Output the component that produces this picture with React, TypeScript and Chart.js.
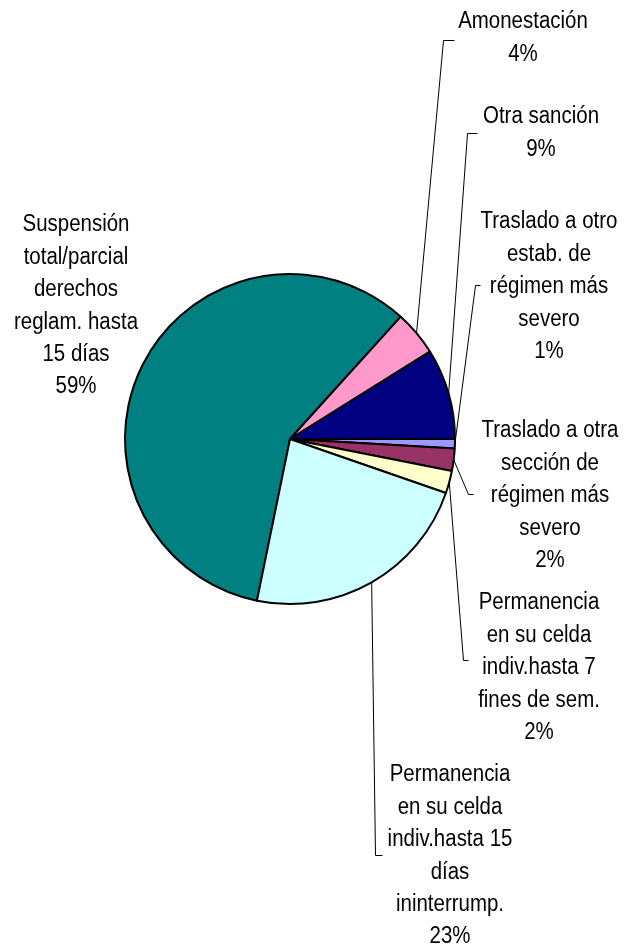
import React, { useEffect, useRef } from "react";
import { Chart, registerables } from "chart.js";

Chart.register(...registerables);

// Category labels (one entry per line of text)
const categories: string[][] = [
  ["Suspensión", "total/parcial", "derechos", "reglam. hasta", "15 días"],
  ["Amonestación"],
  ["Otra sanción"],
  ["Traslado a otro", "estab. de", "régimen más", "severo"],
  ["Traslado a otra", "sección de", "régimen más", "severo"],
  ["Permanencia", "en su celda", "indiv.hasta 7", "fines de sem."],
  ["Permanencia", "en su celda", "indiv.hasta 15", "días", "ininterrump."],
];

// Share of each sanction (%)
const values: number[] = [58.5, 4.4, 8.9, 0.9, 2.2, 2.2, 22.9];

const colors: string[] = ["#008080", "#FF99CC", "#000080", "#9999FF", "#993366", "#FFFFCC", "#CCFFFF"];

// Label layout relative to the pie centre (px): text centre x, first line y,
// leader corner (cx, cy) and horizontal end x (ex). null => no leader.
type Lay = { tx: number; ty: number; leader: null | { cx: number; cy: number; ex: number } };
const layout: Lay[] = [
  { tx: -214, ty: -214, leader: null },
  { tx: 233, ty: -417, leader: { cx: 153, cy: -399, ex: 164 } },
  { tx: 251, ty: -322, leader: { cx: 177, cy: -306, ex: 187 } },
  { tx: 259, ty: -217, leader: { cx: 185, cy: -154, ex: 190 } },
  { tx: 260, ty: -8, leader: { cx: 178, cy: 55, ex: 183 } },
  { tx: 249, ty: 164, leader: { cx: 173, cy: 221, ex: 178 } },
  { tx: 160, ty: 336, leader: { cx: 85, cy: 416, ex: 92 } },
];

const FONT = '23px "Liberation Sans Narrow", "Arial Narrow", "Liberation Sans", Arial, sans-serif';
const SCALE_X = 0.89;
const LINE_H = 32.4;

const labelPlugin = {
  id: "pieLabels",
  afterDraw(chart: any) {
    const ctx = chart.ctx;
    const meta = chart.getDatasetMeta(0);
    const total = values.reduce((a, b) => a + b, 0);
    meta.data.forEach((arc: any, i: number) => {
      const cx0 = arc.x;
      const cy0 = arc.y;
      const lay = layout[i];
      const lines = [...categories[i], Math.round((values[i] * 100) / total) + "%"];
      ctx.save();
      ctx.font = FONT;
      ctx.textAlign = "center";
      ctx.textBaseline = "middle";
      ctx.fillStyle = "#000";
      lines.forEach((ln, k) => {
        const x = cx0 + lay.tx;
        const y = cy0 + lay.ty + k * LINE_H;
        ctx.save();
        ctx.translate(x, y);
        ctx.scale(SCALE_X, 1);
        ctx.fillText(ln, 0, 0);
        ctx.restore();
      });
      if (lay.leader) {
        const mid = (arc.startAngle + arc.endAngle) / 2;
        const r = arc.outerRadius;
        const px = cx0 + Math.cos(mid) * r;
        const py = cy0 + Math.sin(mid) * r;
        ctx.strokeStyle = "#000";
        ctx.lineWidth = 1;
        ctx.beginPath();
        ctx.moveTo(px, py);
        ctx.lineTo(cx0 + lay.leader.cx + 0.5, cy0 + lay.leader.cy + 0.5);
        ctx.lineTo(cx0 + lay.leader.ex + 0.5, cy0 + lay.leader.cy + 0.5);
        ctx.stroke();
      }
      ctx.restore();
    });
  },
};

export default function App() {
  const ref = useRef<HTMLCanvasElement | null>(null);
  useEffect(() => {
    if (!ref.current) return;
    const total = values.reduce((a, b) => a + b, 0);
    const chart = new Chart(ref.current, {
      type: "pie",
      data: {
        labels: categories.map((c) => c.join(" ")),
        datasets: [
          {
            data: values,
            backgroundColor: colors,
            borderColor: "#000",
            borderWidth: 2,
            hoverOffset: 0,
            offset: 0,
          },
        ],
      },
      options: {
        animation: false,
        responsive: false,
        rotation: 42.16 - ((values[0] * 360) / total),
        layout: { padding: { left: 124, right: 178, top: 273, bottom: 342 } },
        plugins: { legend: { display: false }, tooltip: { enabled: false } },
        events: [],
      },
      plugins: [labelPlugin],
    });
    return () => chart.destroy();
  }, []);
  return (
    <div style={{ position: "absolute", left: 0, top: 0, width: 634, height: 947, background: "#fff" }}>
      <canvas ref={ref} width={634} height={947} style={{ display: "block" }} />
    </div>
  );
}
